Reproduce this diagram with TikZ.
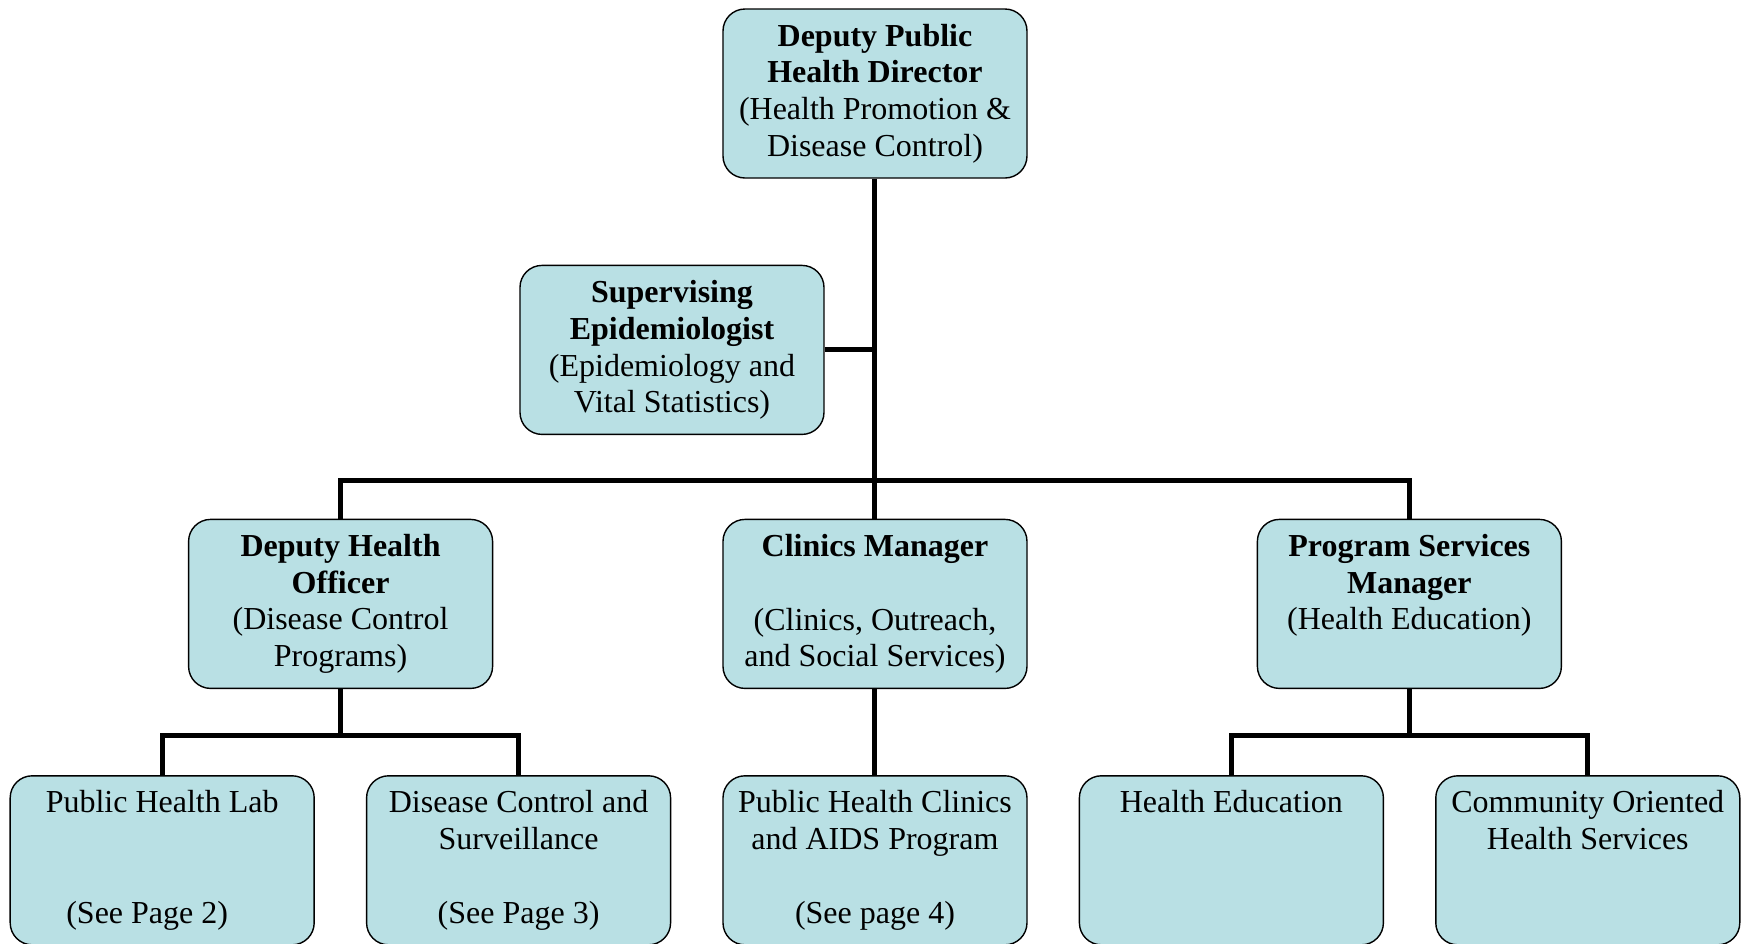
\documentclass[tikz,border=0pt]{standalone}
\usepackage{fontspec}
\setmainfont{Liberation Serif}
\usetikzlibrary{positioning}
\definecolor{boxfill}{RGB}{185,224,228}
\newcommand{\noline}{\vphantom{(Hg)}}

\begin{document}
\begin{tikzpicture}[
    node distance=43pt and 25.5pt,
    unit/.style={rectangle, rounded corners=11pt, draw=black, line width=0.7pt, fill=boxfill, minimum width=152pt, minimum height=84.5pt, inner sep=0pt, align=center, font=\fontsize{16}{18.4}\selectfont},
    link/.style={line width=2.5pt}
]
\useasboundingbox (-437.5pt,46.75pt) rectangle (433pt,-424.75pt);

\node[unit] (top) at (0,0) {\textbf{Deputy Public}\\\textbf{Health Director}\\(Health Promotion \&\\Disease Control)};
\node[unit, below=of top, xshift=-101.5pt] (sup) {\textbf{Supervising}\\\textbf{Epidemiologist}\\(Epidemiology and\\Vital Statistics)};

\node[unit, below=170pt of top] (clinics) {\textbf{Clinics Manager}\\\noline\\(Clinics, Outreach,\\and Social Services)};
\node[unit, left=114.5pt of clinics] (dho) {\textbf{Deputy Health}\\\textbf{Officer}\\(Disease Control\\Programs)};
\node[unit, right=114.5pt of clinics] (psm) {\textbf{Program Services}\\\textbf{Manager}\\(Health Education)\\\noline};

\node[unit, below=of clinics] (phclinics) {Public Health Clinics\\and AIDS Program\\\noline\\(See page 4)};
\node[unit, left=of phclinics] (surv) {Disease Control and\\Surveillance\\\noline\\(See Page 3)};
\node[unit, left=of surv] (lab) {Public Health Lab\\\noline\\\noline\\(See Page 2)\hspace*{15pt}};
\node[unit, right=of phclinics] (hedu) {Health Education\\\noline\\\noline\\\noline};
\node[unit, right=of hedu] (cohs) {Community Oriented\\Health Services\\\noline\\\noline};

\draw[link] (top.south) -- (clinics.north);
\draw[link] (sup.east) -- (sup.east -| top.south);
\draw[link] (dho.north) -- ++(0,19pt) -| (psm.north);
\draw[link] (clinics.south) -- (phclinics.north);
\draw[link] (lab.north) -- ++(0,20pt) coordinate (labbar) -| (surv.north);
\draw[link] (dho.south) -- (dho.south |- labbar);
\draw[link] (hedu.north) -- ++(0,20pt) coordinate (hedubar) -| (cohs.north);
\draw[link] (psm.south) -- (psm.south |- hedubar);
\end{tikzpicture}
\end{document}
